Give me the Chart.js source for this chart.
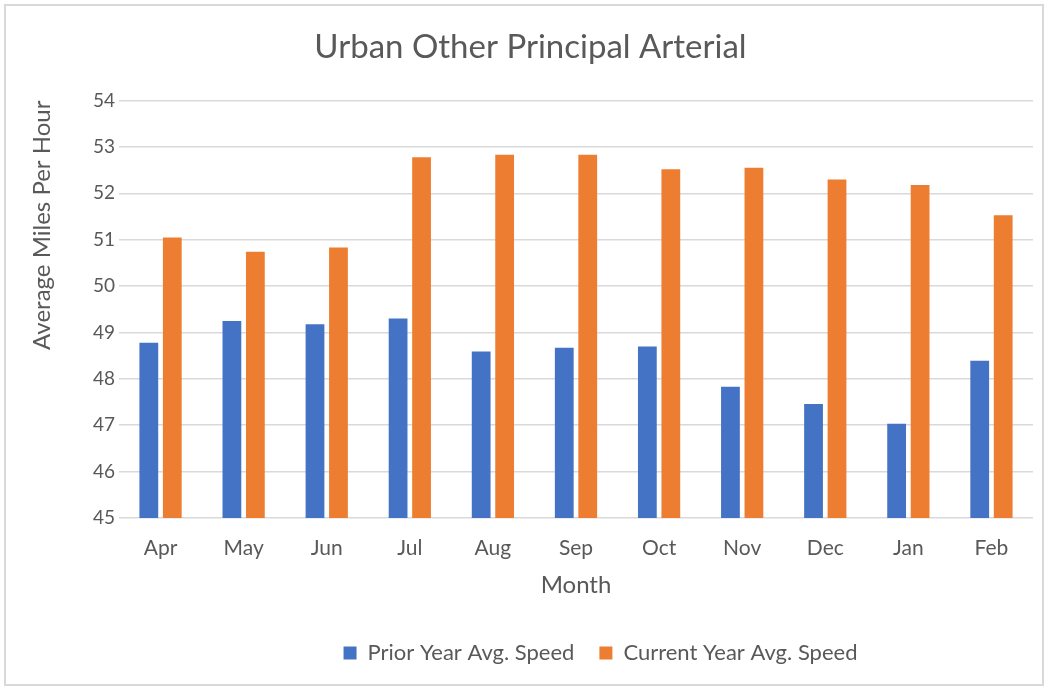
<!DOCTYPE html>
<html>
<head>
<meta charset="utf-8">
<script src="https://cdn.jsdelivr.net/npm/chart.js@4"></script>
<style>
  body { margin: 0; background: #fff; }
  .frame { position: absolute; left: 4px; top: 4px; width: 1040px; height: 682px; border: 2px solid #d9d9d9; box-sizing: border-box; }
  .wrap { position: absolute; left: 0; top: 0; width: 1050px; height: 688px; }
</style>
</head>
<body>
<div class="frame"></div>
<div class="wrap"><canvas id="chart" width="1050" height="688"></canvas></div>
<script>
const months = ['Apr', 'May', 'Jun', 'Jul', 'Aug', 'Sep', 'Oct', 'Nov', 'Dec', 'Jan', 'Feb'];
const priorYear = [48.78, 49.25, 49.18, 49.30, 48.59, 48.67, 48.70, 47.83, 47.46, 47.03, 48.39];
const currentYear = [51.05, 50.74, 50.83, 52.78, 52.83, 52.83, 52.52, 52.55, 52.30, 52.18, 51.53];
const yMin = 45;
const yMax = 54;

const font = 'Lato, "Open Sans", sans-serif';
const grey = '#595959';

// the legend sits a bit right of centre in the original
const legendShift = {
  id: 'legendShift',
  afterLayout: (c) => {
    c.legend.left += 70;
    c.legend.right += 70;
  },
};

const ctx = document.querySelector('#chart').getContext('2d');
const chart = new Chart(ctx, {
  type: 'bar',
  data: {
    labels: months,
    datasets: [
      {
        label: 'Prior Year Avg. Speed',
        data: priorYear,
        backgroundColor: '#4472c4',
        barPercentage: 0.8,
        categoryPercentage: 0.565,
      },
      {
        label: 'Current Year Avg. Speed',
        data: currentYear,
        backgroundColor: '#ed7d31',
        barPercentage: 0.8,
        categoryPercentage: 0.565,
      },
    ],
  },
  plugins: [legendShift],
  options: {
    responsive: false,
    animation: false,
    layout: { padding: { left: 28, right: 17, top: 28, bottom: 14 } },
    plugins: {
      title: {
        display: true,
        text: 'Urban Other Principal Arterial',
        color: grey,
        font: { family: font, size: 33, weight: 'normal' },
        padding: { top: 0, bottom: 33 },
      },
      legend: {
        position: 'bottom',
        labels: {
          color: grey,
          font: { family: font, size: 22 },
          boxWidth: 13,
          boxHeight: 13,
          padding: 25,
        },
      },
      tooltip: { enabled: false },
    },
    scales: {
      x: {
        grid: { display: false },
        border: { display: false },
        ticks: { color: grey, font: { family: font, size: 21 }, padding: 10 },
        title: {
          display: true,
          text: 'Month',
          color: grey,
          font: { family: font, size: 24 },
          padding: { top: 0, bottom: 17 },
        },
      },
      y: {
        min: yMin,
        max: yMax,
        ticks: { stepSize: 1, color: grey, font: { family: font, size: 19 }, padding: 4 },
        grid: { color: '#d9d9d9', lineWidth: 1.5, drawTicks: false },
        border: { display: false },
        title: {
          display: true,
          text: 'Average Miles Per Hour',
          align: 'end',
          color: grey,
          font: { family: font, size: 24 },
          padding: { top: 0, bottom: 14 },
        },
        afterFit: (axis) => { axis.width = 91; },
      },
    },
  },
});
</script>
</body>
</html>
